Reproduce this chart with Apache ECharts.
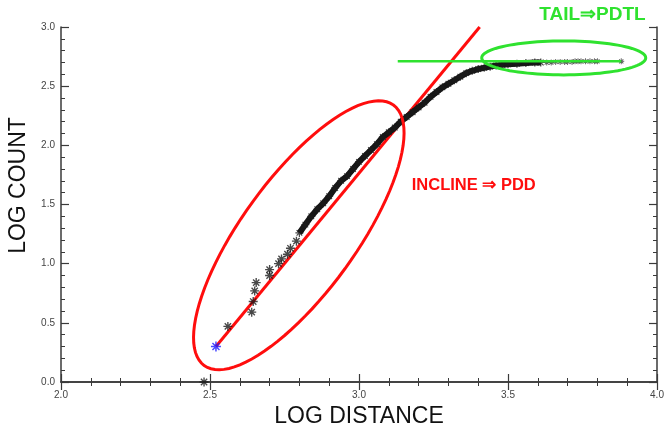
<!DOCTYPE html>
<html>
<head>
<meta charset="utf-8">
<script src="https://cdn.jsdelivr.net/npm/echarts@6/dist/echarts.min.js"></script>
<style>
  html, body { margin: 0; padding: 0; background: #fff; }
  #chart { width: 664px; height: 429px; }
</style>
</head>
<body>
<div id="chart"></div>
<script>
// log distance / log count
const sparseDist  = [2.48, 2.56, 2.64, 2.645, 2.65, 2.655, 2.70, 2.70, 2.73, 2.74, 2.76, 2.77, 2.79];
const sparseCount = [0.00, 0.47, 0.59, 0.68, 0.77, 0.84, 0.90, 0.95, 1.00, 1.04, 1.08, 1.13, 1.19];

// dense part of the curve (points overlap into a band)
const bandDist  = [2.80, 2.82, 2.84, 2.86, 2.88, 2.90, 2.92, 2.94, 2.96, 2.98,
                   3.00, 3.02, 3.04, 3.06, 3.08, 3.10, 3.12, 3.14, 3.16, 3.18,
                   3.20, 3.22, 3.24, 3.26, 3.28, 3.30, 3.32, 3.34, 3.36, 3.38,
                   3.40, 3.42, 3.44, 3.46, 3.48, 3.50, 3.53, 3.56, 3.59, 3.61];
const bandCount = [1.26, 1.33, 1.40, 1.46, 1.51, 1.57, 1.64, 1.70, 1.74, 1.80,
                   1.86, 1.91, 1.96, 2.01, 2.07, 2.11, 2.15, 2.20, 2.24, 2.28,
                   2.32, 2.36, 2.41, 2.45, 2.49, 2.52, 2.55, 2.58, 2.61, 2.63,
                   2.645, 2.655, 2.665, 2.675, 2.68, 2.685, 2.69, 2.695, 2.70, 2.70];

// thin tail
const tailDist  = [3.63, 3.645, 3.66, 3.675, 3.69, 3.70, 3.715, 3.725, 3.735, 3.745, 3.76, 3.775, 3.79, 3.80, 3.88];
const tailCount = [2.70, 2.70, 2.705, 2.705, 2.705, 2.705, 2.705, 2.71, 2.71, 2.71, 2.71, 2.71, 2.71, 2.71, 2.71];

const firstPoint = [2.52, 0.30];
const inclineFit = [[2.52, 0.30], [3.405, 3.0]];
const tailLevel  = [[3.13, 2.71], [3.88, 2.71]];

const xTicks = [2.0, 2.5, 3.0, 3.5, 4.0];
const yTicks = [0.0, 0.5, 1.0, 1.5, 2.0, 2.5, 3.0];

const RED = '#ff0d0d';
const GREEN = '#2fe22f';

const zip = (a, b) => a.map((v, i) => [v, b[i]]);

// asterisk marker
const STAR = 'path://M8.5,0 L11.5,0 L11.5,20 L8.5,20 Z M0,8.5 L20,8.5 L20,11.5 L0,11.5 Z ' +
  'M4.06,1.94 L18.06,15.94 L15.94,18.06 L1.94,4.06 Z M18.06,4.06 L4.06,18.06 L1.94,15.94 L15.94,1.94 Z';

// hand drawn marks on the plot
const ellipses = [
  { center: [2.798, 1.240], rx: 161, ry: 57, angle: 54, color: RED },
  { center: [3.687, 2.739], rx: 82, ry: 17, angle: 0, color: GREEN }
];
const notes = [
  { at: [3.177, 1.665], text: 'INCLINE \u21d2 PDD', color: RED, size: 16.5 },
  { at: [3.605, 3.105], text: 'TAIL\u21d2PDTL', color: GREEN, size: 19 }
];

const axisCommon = {
  type: 'value',
  axisLine: { show: true, lineStyle: { color: '#3a3a3a', width: 1.5 } },
  axisTick: { show: true, inside: true, length: 8, lineStyle: { color: '#3a3a3a', width: 1.2 } },
  minorTick: { show: true, splitNumber: 5, length: 4, lineStyle: { color: '#3a3a3a', width: 1 } },
  splitLine: { show: false },
  axisLabel: { show: false }
};
const labelStyle = {
  show: true, color: '#444', fontSize: 10, fontFamily: 'Liberation Sans',
  formatter: v => v.toFixed(1)
};
const nameStyle = { color: '#111', fontSize: 23, fontFamily: 'Liberation Sans' };

const chart = echarts.init(document.getElementById('chart'));
chart.setOption({
  animation: false,
  grid: { left: 61, right: 7, top: 27, bottom: 47, outerBoundsMode: 'none' },
  xAxis: [
    Object.assign({}, axisCommon, {
      min: xTicks[0], max: xTicks[xTicks.length - 1], interval: 0.5, position: 'bottom',
      axisLabel: Object.assign({}, labelStyle, { margin: 8 }),
      name: 'LOG DISTANCE', nameLocation: 'middle', nameGap: 18, nameTextStyle: nameStyle
    }),
    Object.assign({}, axisCommon, {
      min: xTicks[0], max: xTicks[xTicks.length - 1], interval: 0.5, position: 'top'
    })
  ],
  yAxis: [
    Object.assign({}, axisCommon, {
      min: yTicks[0], max: yTicks[yTicks.length - 1], interval: 0.5, position: 'left',
      axisLabel: Object.assign({}, labelStyle, { margin: 6 }),
      name: 'LOG COUNT', nameLocation: 'middle', nameGap: 28,
      nameTextStyle: Object.assign({}, nameStyle, { padding: [0, 0, 0, 38] })
    }),
    Object.assign({}, axisCommon, {
      min: yTicks[0], max: yTicks[yTicks.length - 1], interval: 0.5, position: 'right'
    })
  ],
  series: [
    {
      type: 'line', data: inclineFit, symbol: 'none', z: 2,
      lineStyle: { color: RED, width: 3 }
    },
    {
      type: 'line', data: zip(bandDist, bandCount), symbol: 'none', z: 3,
      lineStyle: { color: '#161616', width: 6 }
    },
    {
      type: 'scatter', data: zip(bandDist, bandCount), symbol: STAR, symbolSize: 8, z: 4,
      itemStyle: { color: '#1a1a1a' }
    },
    {
      type: 'scatter', data: zip(sparseDist, sparseCount), symbol: STAR, symbolSize: 9, z: 4,
      itemStyle: { color: '#1a1a1a' }
    },
    {
      type: 'scatter', data: zip(tailDist, tailCount), symbol: STAR, symbolSize: 6, z: 4,
      itemStyle: { color: '#333' }
    },
    {
      type: 'scatter', data: [firstPoint], symbol: STAR, symbolSize: 10, z: 5,
      itemStyle: { color: '#1c1cff' }
    },
    {
      type: 'line', data: tailLevel, symbol: 'none', z: 6,
      lineStyle: { color: GREEN, width: 2.5 }
    },
    {
      type: 'custom', z: 7, silent: true,
      data: ellipses.map((e, i) => [i]),
      renderItem: (params, api) => {
        const e = ellipses[params.dataIndex];
        const c = api.coord(e.center);
        const th = e.angle * Math.PI / 180;
        const pts = [];
        for (let i = 0; i < 96; i++) {
          const t = i / 96 * Math.PI * 2;
          const u = e.rx * Math.cos(t), v = e.ry * Math.sin(t);
          pts.push([c[0] + u * Math.cos(th) - v * Math.sin(th),
                    c[1] - (u * Math.sin(th) + v * Math.cos(th))]);
        }
        return { type: 'polygon', shape: { points: pts },
                 style: { fill: 'none', stroke: e.color, lineWidth: 3 } };
      }
    },
    {
      type: 'custom', z: 8, silent: true,
      data: notes.map((n, i) => [i]),
      renderItem: (params, api) => {
        const n = notes[params.dataIndex];
        const p = api.coord(n.at);
        return { type: 'text', x: p[0], y: p[1],
                 style: { text: n.text, fill: n.color, fontSize: n.size, fontWeight: 'bold',
                          fontFamily: 'Liberation Sans', verticalAlign: 'middle', align: 'left' } };
      }
    }
  ]
});
</script>
</body>
</html>
